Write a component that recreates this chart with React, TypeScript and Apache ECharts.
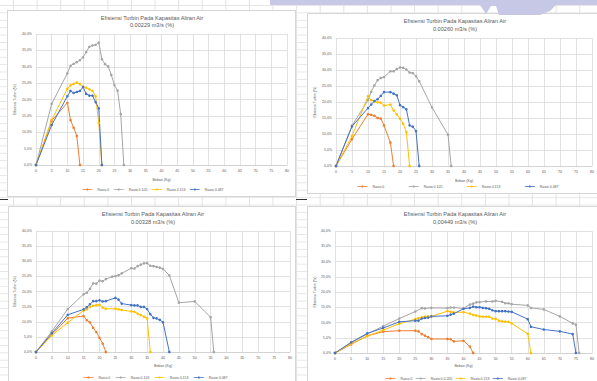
import React, { useEffect, useRef } from "react";
import * as echarts from "echarts";

// ---------- data ----------
const seriesNames = ["Rasio 0", "Rasio 0.105", "Rasio 0.153", "Rasio 0.087"];
const seriesNames4 = ["Rasio 0", "Rasio 0.0.205", "Rasio 0.153", "Rasio 0.087"];
const titles = [
  "0.00229 m3/s (%)",
  "0.00260 m3/s (%)",
  "0.00328 m3/s (%)",
  "0,00449 m3/s (%)",
];
const mainTitle = "Efisiensi Turbin Pada Kapasitas Aliran Air";

// chart 1: Q = 0.00229
const c1Rasio0 = [[0, 0], [5, 13.5], [10, 19.0], [11, 13.7], [12, 11.4], [13, 8.9], [14, 0]];
const c1Rasio105 = [[0, 0], [5, 18.7], [10, 28.0], [11, 30.3], [12, 30.9], [13, 31.4], [14, 32.0], [15, 32.9], [16, 34.5], [17, 36.1], [18, 36.5], [19, 36.7], [20, 37.4], [21, 32.3], [22, 30.8], [23, 30.1], [24, 27.5], [25, 24.4], [26, 22.7], [27, 15.5], [28, 0]];
const c1Rasio153 = [[0, 0], [5, 13.8], [10, 23.3], [11, 24.3], [12, 24.8], [13, 25.2], [14, 24.7], [15, 23.9], [16, 23.6], [17, 23.1], [18, 22.6], [19, 21.0], [20, 12.9], [21, 0]];
const c1Rasio087 = [[0, 0], [5, 12.2], [10, 21.0], [11, 22.6], [12, 22.0], [13, 22.3], [14, 22.6], [15, 23.8], [16, 21.7], [17, 21.2], [18, 21.2], [19, 19.2], [20, 17.3], [21, 0]];

// chart 2: Q = 0.00260
const c2Rasio0 = [[0, 0], [5, 8.4], [10, 16.2], [11, 16.0], [12, 15.7], [13, 15.0], [14, 14.8], [15, 12.7], [17, 7.3], [18, 0]];
const c2Rasio105 = [[0, 0], [5, 12.6], [10, 20.6], [11, 23.2], [12, 25.2], [13, 26.8], [14, 27.5], [15, 27.8], [17, 29.6], [18, 29.6], [19, 30.3], [20, 30.8], [21, 30.7], [22, 30.1], [23, 29.2], [24, 29.0], [25, 28.1], [26, 26.5], [30, 18.3], [35, 9.8], [36, 0]];
const c2Rasio153 = [[0, 0], [5, 9.3], [10, 21.8], [11, 20.6], [12, 20.2], [13, 19.9], [14, 19.8], [15, 18.9], [17, 19.2], [18, 17.4], [19, 16.1], [20, 14.8], [21, 13.2], [22, 10.6], [23, 0]];
const c2Rasio087 = [[0, 0], [5, 12.4], [10, 18.1], [11, 19.2], [12, 20.3], [13, 20.9], [14, 21.9], [15, 23.1], [17, 23.1], [18, 22.6], [19, 22.1], [20, 19.0], [21, 18.4], [22, 17.7], [23, 12.7], [24, 12.3], [25, 10.9], [26, 0]];

// chart 3: Q = 0.00328
const c3Rasio0 = [[0, 0], [5, 5.8], [10, 11.2], [15, 11.9], [16, 10.5], [17, 9.8], [18, 8.0], [19, 6.6], [20, 4.7], [21, 2.8], [22, 0]];
const c3Rasio105 = [[0, 0], [5, 6.8], [10, 14.2], [15, 19.1], [16, 19.6], [17, 20.9], [18, 22.7], [19, 22.6], [20, 23.6], [21, 23.4], [22, 24.1], [24, 24.9], [25, 25.1], [26, 25.4], [27, 26.0], [30, 27.7], [31, 27.6], [32, 28.4], [33, 28.9], [34, 29.3], [35, 29.4], [36, 28.5], [37, 28.4], [38, 28.1], [39, 27.9], [40, 27.5], [42, 25.3], [45, 16.3], [50, 16.7], [55, 11.5], [56, 0]];
const c3Rasio153 = [[0, 0], [5, 5.5], [10, 9.7], [15, 13.7], [16, 14.1], [17, 14.9], [18, 15.3], [19, 15.5], [20, 15.6], [21, 14.7], [22, 14.3], [25, 14.3], [26, 14.1], [27, 13.9], [30, 13.4], [31, 13.3], [32, 12.7], [33, 12.2], [34, 11.7], [35, 11.1], [36, 0]];
const c3Rasio087 = [[0, 0], [5, 6.2], [10, 12.3], [15, 14.1], [16, 14.8], [17, 15.8], [18, 16.8], [19, 16.8], [20, 17.1], [21, 16.7], [22, 16.8], [25, 17.9], [26, 17.3], [27, 16.0], [30, 15.5], [31, 15.4], [32, 15.4], [33, 14.9], [34, 14.9], [35, 14.2], [36, 12.5], [37, 11.3], [38, 11.1], [39, 10.6], [40, 9.8], [42, 0]];

// chart 4: Q = 0.00449
const c4Rasio0 = [[0, 0], [5, 2.8], [10, 5.6], [15, 7.0], [20, 7.3], [25, 7.3], [26, 7.1], [27, 6.2], [28, 5.7], [29, 5.2], [30, 4.6], [35, 4.6], [36, 4.5], [37, 3.8], [40, 4.0], [42, 2.1], [43, 0]];
const c4Rasio205 = [[0, 0], [5, 3.3], [10, 6.2], [15, 8.8], [20, 11.3], [25, 13.6], [27, 14.7], [28, 14.6], [30, 14.8], [35, 14.7], [36, 14.9], [37, 14.9], [40, 14.6], [42, 15.9], [43, 16.2], [44, 16.6], [45, 16.7], [47, 16.9], [49, 16.9], [50, 17.1], [52, 16.8], [53, 16.3], [54, 16.3], [55, 16.0], [60, 15.6], [61, 14.8], [65, 14.3], [70, 12.0], [74, 9.7], [75, 9.3], [76, 0]];
const c4Rasio153 = [[0, 0], [5, 3.0], [10, 5.5], [15, 7.5], [20, 9.6], [25, 11.1], [26, 11.4], [27, 11.7], [28, 11.9], [29, 12.0], [30, 12.0], [35, 13.7], [36, 13.5], [37, 13.3], [40, 13.4], [42, 12.9], [43, 12.5], [44, 12.3], [45, 12.0], [46, 11.9], [47, 11.9], [48, 11.9], [49, 11.3], [50, 11.2], [51, 10.6], [52, 10.4], [53, 10.3], [54, 10.2], [55, 9.7], [60, 6.3], [61, 0]];
const c4Rasio087 = [[0, 0], [5, 3.5], [10, 6.4], [15, 8.2], [20, 10.2], [25, 10.6], [26, 10.6], [27, 11.3], [28, 11.5], [29, 11.6], [30, 12.0], [35, 12.2], [36, 12.6], [37, 12.9], [40, 14.5], [42, 14.8], [43, 15.2], [44, 15.0], [45, 15.0], [46, 14.8], [47, 14.7], [48, 14.5], [49, 14.0], [50, 13.7], [51, 13.7], [52, 13.7], [53, 13.7], [54, 13.6], [55, 13.5], [60, 11.1], [61, 8.6], [65, 7.7], [70, 7.1], [74, 6.2], [75, 0]];

const chartData = [
  [c1Rasio0, c1Rasio105, c1Rasio153, c1Rasio087],
  [c2Rasio0, c2Rasio105, c2Rasio153, c2Rasio087],
  [c3Rasio0, c3Rasio105, c3Rasio153, c3Rasio087],
  [c4Rasio0, c4Rasio205, c4Rasio153, c4Rasio087],
];

// ---------- layout / style ----------
const colors = ["#ED7D31", "#A5A5A5", "#FFC000", "#4472C4"];
const FONT = "Liberation Sans";
const TXT = "#595959";
const grids = [
  { left: 36, top: 34, width: 251, height: 131 },
  { left: 336, top: 38, width: 257, height: 128 },
  { left: 36, top: 231, width: 254, height: 121 },
  { left: 335, top: 231, width: 258, height: 122 },
];
const titlePos = [
  { x: 152, y1: 17.5, y2: 25 },
  { x: 455, y1: 21, y2: 29 },
  { x: 153, y1: 214, y2: 222 },
  { x: 455, y1: 214, y2: 222 },
];
const xNameGap = [13, 13, 12, 11];
const yNameGap = [19, 19, 19, 18];
const legendPos = [
  { left: 82, top: 187.5, gap: 4 },
  { left: 357, top: 184.5, gap: 24 },
  { left: 83, top: 375.5, gap: 5 },
  { left: 385, top: 376.5, gap: 3 },
];
const boxes = [
  { left: 7, top: 10, width: 289, height: 187 },
  { left: 307, top: 13, width: 300, height: 181 },
  { left: 8, top: 206, width: 288, height: 190 },
  { left: 307, top: 206, width: 300, height: 190 },
];

export default function App() {
  const ref = useRef<HTMLDivElement>(null);

  useEffect(() => {
    if (!ref.current) return;
    const chart = echarts.init(ref.current, undefined, { renderer: "svg" });

    const series: any[] = [];
    chartData.forEach((group, gi) => {
      const names = gi === 3 ? seriesNames4 : seriesNames;
      group.forEach((d, si) => {
        series.push({
          type: "line",
          name: names[si],
          xAxisIndex: gi,
          yAxisIndex: gi,
          data: d,
          symbol: "circle",
          symbolSize: 2.6,
          showSymbol: true,
          lineStyle: { width: 1, color: colors[si] },
          itemStyle: { color: colors[si] },
          emphasis: { disabled: true },
        });
      });
    });

    const graphic: any[] = [];
    titlePos.forEach((p, i) => {
      graphic.push({
        type: "text",
        x: p.x,
        y: p.y1,
        style: { text: mainTitle, align: "center", verticalAlign: "middle", fontSize: 5.6, fontFamily: FONT, fill: TXT },
      });
      graphic.push({
        type: "text",
        x: p.x,
        y: p.y2,
        style: { text: titles[i], align: "center", verticalAlign: "middle", fontSize: 5.6, fontFamily: FONT, fill: TXT },
      });
    });
    // watermark band at the top
    graphic.push({
      type: "polygon",
      shape: {
        points: [
          [270, 0], [597, 0], [597, 5], [556, 5], [550, 11], [540, 15], [499, 15], [496, 6],
          [491, 6], [486, 14], [480, 5], [270, 5],
        ],
      },
      style: { fill: "#c6c8e6" },
      z: 100,
    });

    const option: any = {
      animation: false,
      color: colors,
      textStyle: { fontFamily: FONT },
      grid: grids.map((g) => ({ ...g, containLabel: false })),
      xAxis: grids.map((_, i) => ({
        type: "value",
        gridIndex: i,
        min: 0,
        max: 80,
        interval: 5,
        name: "Beban (Kg)",
        nameLocation: "middle",
        nameGap: xNameGap[i],
        nameTextStyle: { fontSize: 3.6, color: TXT, fontFamily: FONT },
        axisLine: { show: true, lineStyle: { color: "#cfcfcf", width: 0.8 } },
        axisTick: { show: false },
        axisLabel: { fontSize: 3.6, color: TXT, margin: 4, fontFamily: FONT },
        splitLine: { show: true, lineStyle: { color: "#d9d9d9", width: 0.8 } },
      })),
      yAxis: grids.map((_, i) => ({
        type: "value",
        gridIndex: i,
        min: 0,
        max: 40,
        interval: 5,
        name: "Efisiensi Turbin (%)",
        nameLocation: "middle",
        nameGap: yNameGap[i],
        nameTextStyle: { fontSize: 3.6, color: TXT, fontFamily: FONT },
        axisLine: { show: false },
        axisTick: { show: false },
        axisLabel: {
          fontSize: 3.5,
          color: TXT,
          margin: 4,
          fontFamily: FONT,
          formatter: (v: number) => v.toFixed(1).replace(".", ",") + "%",
        },
        splitLine: { show: true, lineStyle: { color: "#d9d9d9", width: 0.8 } },
      })),
      legend: legendPos.map((l, i) => ({
        left: l.left,
        top: l.top,
        itemGap: l.gap,
        itemWidth: 10,
        itemHeight: 2.6,
        padding: 0,
        selectedMode: false,
        lineStyle: { width: 0.8 },
        data: i === 3 ? seriesNames4 : seriesNames,
        textStyle: { fontSize: 3.5, color: TXT, fontFamily: FONT },
      })),
      graphic,
      series,
    };
    chart.setOption(option);
    return () => chart.dispose();
  }, []);

  return (
    <div
      style={{
        position: "fixed",
        left: 0,
        top: 0,
        width: 597,
        height: 381,
        overflow: "hidden",
        backgroundColor: "#ffffff",
        backgroundImage:
          "linear-gradient(to right, #e2e2e2 1px, transparent 1px), linear-gradient(to bottom, #e6e6e6 1px, transparent 1px)",
        backgroundSize: "23.6px 7.4px",
        backgroundPosition: "13px 5px",
      }}
    >
      {boxes.map((b, i) => (
        <div
          key={i}
          style={{
            position: "absolute",
            left: b.left,
            top: b.top,
            width: b.width,
            height: b.height,
            background: "#ffffff",
            border: "1px solid #d6d6d6",
            boxSizing: "border-box",
          }}
        />
      ))}
      <div style={{ position: "absolute", left: 0, top: 199, width: 8, height: 1, background: "#333" }} />
      <div style={{ position: "absolute", left: 296, top: 199, width: 11, height: 1, background: "#333" }} />
      <div ref={ref} style={{ position: "absolute", left: 0, top: 0, width: 597, height: 381 }} />
    </div>
  );
}
